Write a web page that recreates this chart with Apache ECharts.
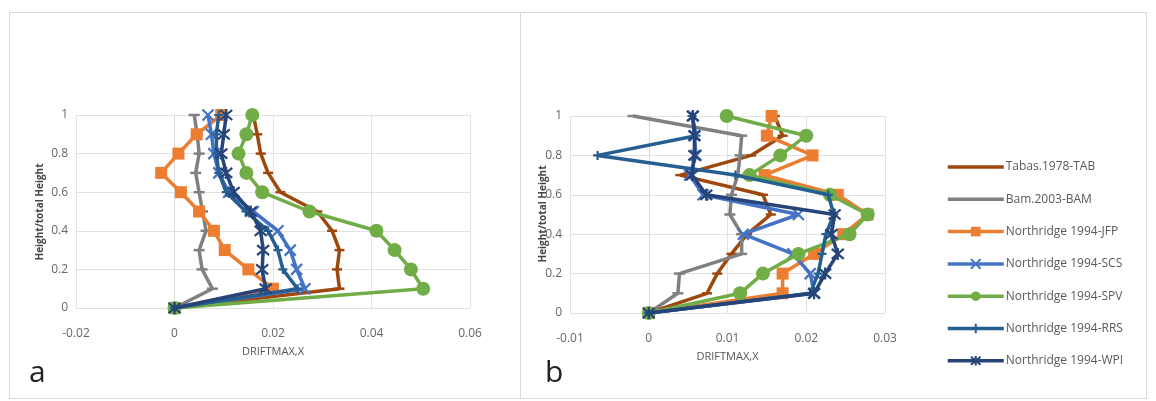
<!DOCTYPE html>
<html><head><meta charset="utf-8">
<script src="https://cdn.jsdelivr.net/npm/echarts@6/dist/echarts.min.js"></script>
<style>html,body{margin:0;padding:0;background:#fff}#c{width:1156px;height:401px}</style>
</head><body><div id="c"></div>
<script>
// Heights (fraction of total height)
const heights = [0, 0.1, 0.2, 0.3, 0.4, 0.5, 0.6, 0.7, 0.8, 0.9, 1.0];
const seriesNames = ['Tabas.1978-TAB','Bam.2003-BAM','Northridge 1994-JFP','Northridge 1994-SCS','Northridge 1994-SPV','Northridge 1994-RRS','Northridge 1994-WPI'];
const xTicksA = [-0.02, 0, 0.02, 0.04, 0.06];
const xTicksB = [-0.01, 0, 0.01, 0.02, 0.03];
const yTicks = [0, 0.2, 0.4, 0.6, 0.8, 1];

// Panel a: DRIFTMAX,X per height
const aTAB = [0, 0.0335, 0.033, 0.0335, 0.032, 0.029, 0.0215, 0.019, 0.0175, 0.0168, 0.016];
const aBAM = [0, 0.0077, 0.0056, 0.005, 0.0064, 0.0057, 0.005, 0.0043, 0.005, 0.0046, 0.004];
const aJFP = [0, 0.020, 0.015, 0.0102, 0.008, 0.005, 0.0013, -0.0027, 0.0008, 0.0045, 0.0095];
const aSCS = [0, 0.0265, 0.0248, 0.0235, 0.021, 0.016, 0.011, 0.009, 0.008, 0.0075, 0.0068];
const aSPV = [0, 0.0505, 0.048, 0.0447, 0.041, 0.0274, 0.0178, 0.0146, 0.013, 0.0146, 0.0158];
const aRRS = [0, 0.025, 0.022, 0.021, 0.019, 0.0145, 0.0105, 0.009, 0.0085, 0.0085, 0.009];
const aWPI = [0, 0.0185, 0.0178, 0.018, 0.0175, 0.0155, 0.012, 0.0105, 0.0095, 0.010, 0.0105];

// Panel b
const bTAB = [0, 0.0074, 0.0087, 0.0105, 0.0125, 0.0155, 0.0145, 0.004, 0.013, 0.017, 0.016];
const bBAM = [0, 0.0037, 0.0039, 0.0118, 0.0118, 0.0103, 0.0105, 0.0113, 0.0116, 0.0118, -0.002];
const bJFP = [0, 0.017, 0.017, 0.021, 0.0247, 0.0278, 0.024, 0.0147, 0.0208, 0.015, 0.0156];
const bSCS = [0, 0.021, 0.0205, 0.0183, 0.012, 0.019, 0.0069, 0.0052, 0.006, 0.0058, 0.0056];
const bSPV = [0, 0.0116, 0.0145, 0.019, 0.0255, 0.0278, 0.023, 0.0128, 0.0167, 0.020, 0.0099];
const bRRS = [0, 0.0205, 0.0215, 0.022, 0.0225, 0.0235, 0.0228, 0.011, -0.0065, 0.006, 0.0055];
const bWPI = [0, 0.021, 0.0224, 0.024, 0.0232, 0.0236, 0.0073, 0.0055, 0.0058, 0.0058, 0.0056];

const colors = ['#9E480E','#808080','#ED7D31','#4472C4','#70AD47','#255E91','#264478'];
const X_PATH = 'path://M0,0L10,10M10,0L0,10';
const STAR_PATH = 'path://M0,0L10,10M10,0L0,10M5,-1L5,11';
const PLUS_PATH = 'path://M5,0L5,10M0,5L10,5';
const symbols = [
  {symbol:'rect', size:[10,2.5], stroke:false},
  {symbol:'rect', size:[11,2.5], stroke:false},
  {symbol:'rect', size:12, stroke:false},
  {symbol:X_PATH, size:11, stroke:true},
  {symbol:'circle', size:14, stroke:false},
  {symbol:PLUS_PATH, size:9, stroke:true},
  {symbol:STAR_PATH, size:12, stroke:true}
];
const dataA = [aTAB,aBAM,aJFP,aSCS,aSPV,aRRS,aWPI];
const dataB = [bTAB,bBAM,bJFP,bSCS,bSPV,bRRS,bWPI];

function mk(idx, arr, gi) {
  const s = symbols[idx];
  return {
    name: seriesNames[idx], type: 'line', xAxisIndex: gi, yAxisIndex: gi,
    data: arr.map((v,i)=>[v, heights[i]]),
    symbol: s.symbol, symbolSize: s.size, showAllSymbol: true,
    lineStyle: {color: colors[idx], width: 3.5},
    itemStyle: s.stroke ? {color:'rgba(0,0,0,0)', borderColor: colors[idx], borderWidth: 2.2} : {color: colors[idx], borderWidth: 0},
    z: 2 + idx, silent: true, animation: false
  };
}

const font = 'Open Sans, Liberation Sans, sans-serif';
function xAx(gi, min, max, interval) {
  return {gridIndex: gi, type:'value', min, max, interval,
    axisLine:{show:false}, axisTick:{show:false},
    axisLabel:{color:'#666', fontSize:12, fontFamily:font, margin:20,
      formatter: v => (Math.round(v*1000)/1000).toString()},
    splitLine:{show:true, lineStyle:{color:'#e2e2e2', width:1}},
    name:'DRIFTMAX,X', nameLocation:'middle', nameGap:38,
    nameTextStyle:{color:'#555', fontSize:11, fontFamily:font}};
}
function yAx(gi) {
  return {gridIndex: gi, type:'value', min:0, max:1, interval:0.2,
    axisLine:{show:true, onZero:true, lineStyle:{color:'#d9d9d9'}}, axisTick:{show:false},
    axisLabel:{color:'#666', fontSize:12, fontFamily:font, margin:8,
      formatter: v => (Math.round(v*10)/10).toString()},
    splitLine:{show:true, lineStyle:{color:'#e2e2e2', width:1}}};
}

const legendData = seriesNames.map((n, i) => i < 2
  ? {name: n, itemStyle: {color: 'rgba(0,0,0,0)', borderWidth: 0}}
  : {name: n});

const chart = echarts.init(document.getElementById('c'), null, {renderer:'canvas'});
chart.setOption({
  animation:false,
  backgroundColor:'#fff',
  grid:[
    {left:76, top:115, width:394, height:193, show:false},
    {left:570, top:116, width:315, height:197, show:false}
  ],
  xAxis:[xAx(0,-0.02,0.06,0.02), xAx(1,-0.01,0.03,0.01)],
  yAxis:[yAx(0), yAx(1)],
  legend:{
    orient:'vertical', left:941, top:156, itemWidth:56, itemHeight:12, itemGap:20.3,
    lineStyle:{width:3.5},
    textStyle:{color:'#595959', fontSize:12, fontFamily:font, padding:[0,0,0,-3]},
    data: legendData
  },
  graphic:[
    {type:'rect', shape:{x:9.5,y:12.5,width:511,height:386}, style:{fill:null, stroke:'#d9d9d9', lineWidth:1}, silent:true},
    {type:'rect', shape:{x:520.5,y:12.5,width:626,height:386}, style:{fill:null, stroke:'#d9d9d9', lineWidth:1}, silent:true},
    {type:'line', shape:{x1:76.5,y1:115,x2:76.5,y2:308}, style:{stroke:'#d9d9d9', lineWidth:1}},
    {type:'line', shape:{x1:570.5,y1:116,x2:570.5,y2:313}, style:{stroke:'#d9d9d9', lineWidth:1}},
    {type:'text', left:29, top:358, style:{text:'a', fontSize:30, fill:'#222', fontFamily:font}},
    {type:'text', left:545, top:358, style:{text:'b', fontSize:30, fill:'#222', fontFamily:font}},
    {type:'text', x:40, y:212, rotation:Math.PI/2, style:{text:'Height/total Height', fontSize:10, fontWeight:'bold', fill:'#444', fontFamily:font, align:'center', verticalAlign:'middle'}},
    {type:'text', x:543, y:214, rotation:Math.PI/2, style:{text:'Height/total Height', fontSize:10, fontWeight:'bold', fill:'#444', fontFamily:font, align:'center', verticalAlign:'middle'}}
  ],
  series: [
    ...dataA.map((d,i)=>mk(i,d,0)),
    ...dataB.map((d,i)=>mk(i,d,1))
  ]
});
</script></body></html>
